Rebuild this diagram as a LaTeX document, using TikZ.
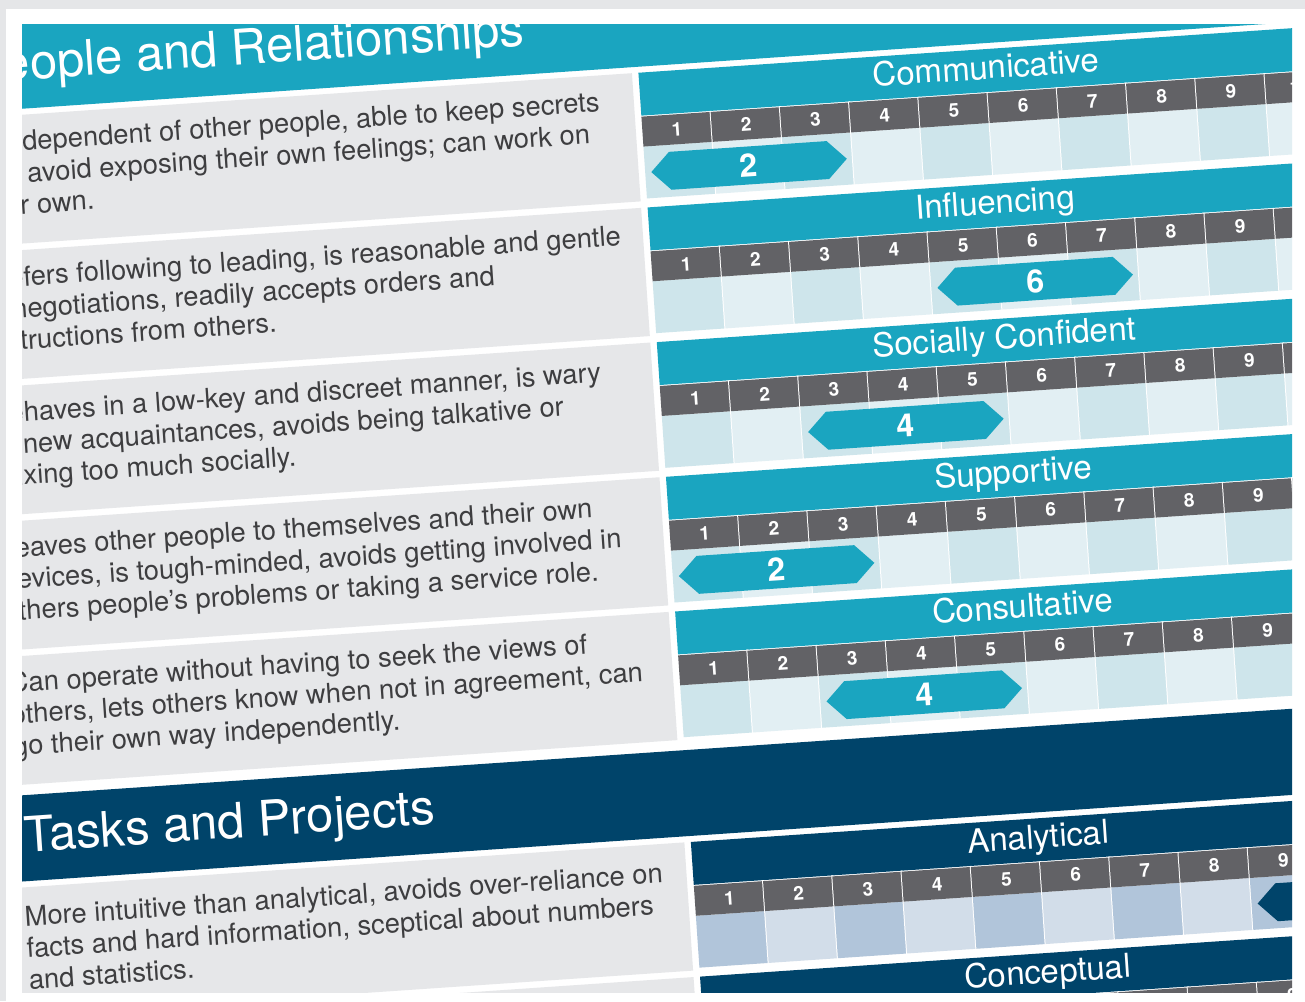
\documentclass[tikz,border=0pt]{standalone}
\usepackage{fontspec}
\setmainfont{TeX Gyre Heros}
\usetikzlibrary{positioning,shapes.symbols}

\definecolor{bggrey}{HTML}{E5E6E8}
\definecolor{rowgrey}{HTML}{E6E7E9}
\definecolor{txtgrey}{HTML}{3E3E40}
\definecolor{numgrey}{HTML}{626266}
\definecolor{pteal}{HTML}{1AA5C0}
\definecolor{pnavy}{HTML}{00446A}
\definecolor{tealA}{HTML}{CEE5EB}
\definecolor{tealB}{HTML}{E2EFF3}
\definecolor{navyA}{HTML}{B1C5DA}
\definecolor{navyB}{HTML}{D2DDE9}

\tikzset{
  head/.style={anchor=base west, inner sep=0, text=white, font=\fontsize{49}{58}\selectfont},
  desc/.style={anchor=base west, inner sep=0, align=left, text=txtgrey, font=\fontsize{27.4}{31.6}\selectfont},
  scaletitle/.style={anchor=base, inner sep=0, text=white, font=\fontsize{33}{40}\selectfont},
  digit/.style={inner sep=0, text=white, font=\bfseries\fontsize{19}{21}\selectfont},
  marker/.style={signal, signal to=east and west, fill=#1, minimum width=196pt, minimum height=38pt, inner sep=0, text=white, font=\bfseries\fontsize{32}{36}\selectfont},
  sep/.style={white, line width=2pt}
}

% Skala: #1 Name, #2 oberer Rand, #3 Titel, #4 Band, #5/#6 Zellen
\newcommand{\skala}[6]{%
  \fill[#4] (632,#2) rectangle (1400,#2+43);
  \node[scaletitle] (t#1) at (979,#2+30) {#3};
  \foreach \i in {1,...,10}{%
    \ifodd\i \def\zf{#5}\else\def\zf{#6}\fi
    \fill[\zf] ({632+(\i-1)*69.4},#2+74) rectangle ({632+\i*69.4},#2+126);
    \fill[numgrey] ({632+(\i-1)*69.4},#2+44) rectangle ({632+\i*69.4},#2+74);
    \node[digit] (#1\i) at ({632+(\i-0.5)*69.4},#2+59) {\i};
    \draw[sep] ({632+\i*69.4},#2+43) -- ++(0,84);
  }%
}

\begin{document}
\begin{tikzpicture}[x=1pt,y=1pt]
\useasboundingbox (0,0) rectangle (1305,-1001);
\fill[bggrey] (0,0) rectangle (1305,-1001);
\fill[white] (6,-9) rectangle (1305,-1001);
\clip (22,-24) rectangle (1292,-992);

\begin{scope}[rotate=3.9, y=-1pt, transform shape]

% Kopfzeilen
\fill[pteal] (-60,22) rectangle (1400,110);
\node[head] (h1) at (-33,81) {People and Relationships};
\fill[pnavy] (-60,795) rectangle (1400,881);
\node[head] (h2) at (-33,852) {Tasks and Projects};

% Beschreibungen (Anker = letzte Zeile)
\fill[rowgrey] (-60,116) rectangle (625.5,244.5);
\node[desc] (d1) at (-38,215.2) {Is independent of other people, able to keep secrets\\and avoid exposing their own feelings; can work on\\their own.};
\fill[rowgrey] (-60,251) rectangle (625.5,379.5);
\node[desc] (d2) at (-38,350.2) {Prefers following to leading, is reasonable and gentle\\in negotiations, readily accepts orders and\\instructions from others.};
\fill[rowgrey] (-60,386) rectangle (625.5,514.5);
\node[desc] (d3) at (-38,485.2) {Behaves in a low-key and discreet manner, is wary\\of new acquaintances, avoids being talkative or\\mixing too much socially.};
\fill[rowgrey] (-60,521) rectangle (625.5,649.5);
\node[desc] (d4) at (-38,620.2) {Leaves other people to themselves and their own\\devices, is tough-minded, avoids getting involved in\\others people’s problems or taking a service role.};
\fill[rowgrey] (-60,656) rectangle (625.5,784.5);
\node[desc] (d5) at (-38,755.2) {Can operate without having to seek the views of\\others, lets others know when not in agreement, can\\go their own way independently.};
\fill[rowgrey] (-60,887) rectangle (625.5,1015.5);
\node[desc] (d6) at (-38,989) {More intuitive than analytical, avoids over-reliance on\\facts and hard information, sceptical about numbers\\and statistics.};
\fill[rowgrey] (-60,1022) rectangle (625.5,1150.5);

% Skalen
\skala{com}{116}{Communicative}{pteal}{tealA}{tealB}
\skala{inf}{251}{Influencing}{pteal}{tealA}{tealB}
\skala{soc}{386}{Socially Confident}{pteal}{tealA}{tealB}
\skala{sup}{521}{Supportive}{pteal}{tealA}{tealB}
\skala{con}{656}{Consultative}{pteal}{tealA}{tealB}
\skala{ana}{887}{Analytical}{pnavy}{navyA}{navyB}
\skala{cpt}{1022}{Conceptual}{pnavy}{navyA}{navyB}

% Werte
\node[marker=pteal] (mcom) at ({632+1.5*69.4},216) {2};
\node[marker=pteal] (minf) at ({632+5.5*69.4},351) {6};
\node[marker=pteal] (msoc) at ({632+3.5*69.4},486) {4};
\node[marker=pteal] (msup) at ({632+1.5*69.4},621) {2};
\node[marker=pteal] (mcon) at ({632+3.5*69.4},756) {4};
\node[marker=pnavy] (mana) at ({632+9.5*69.4},987) {10};

\end{scope}
\end{tikzpicture}
\end{document}
